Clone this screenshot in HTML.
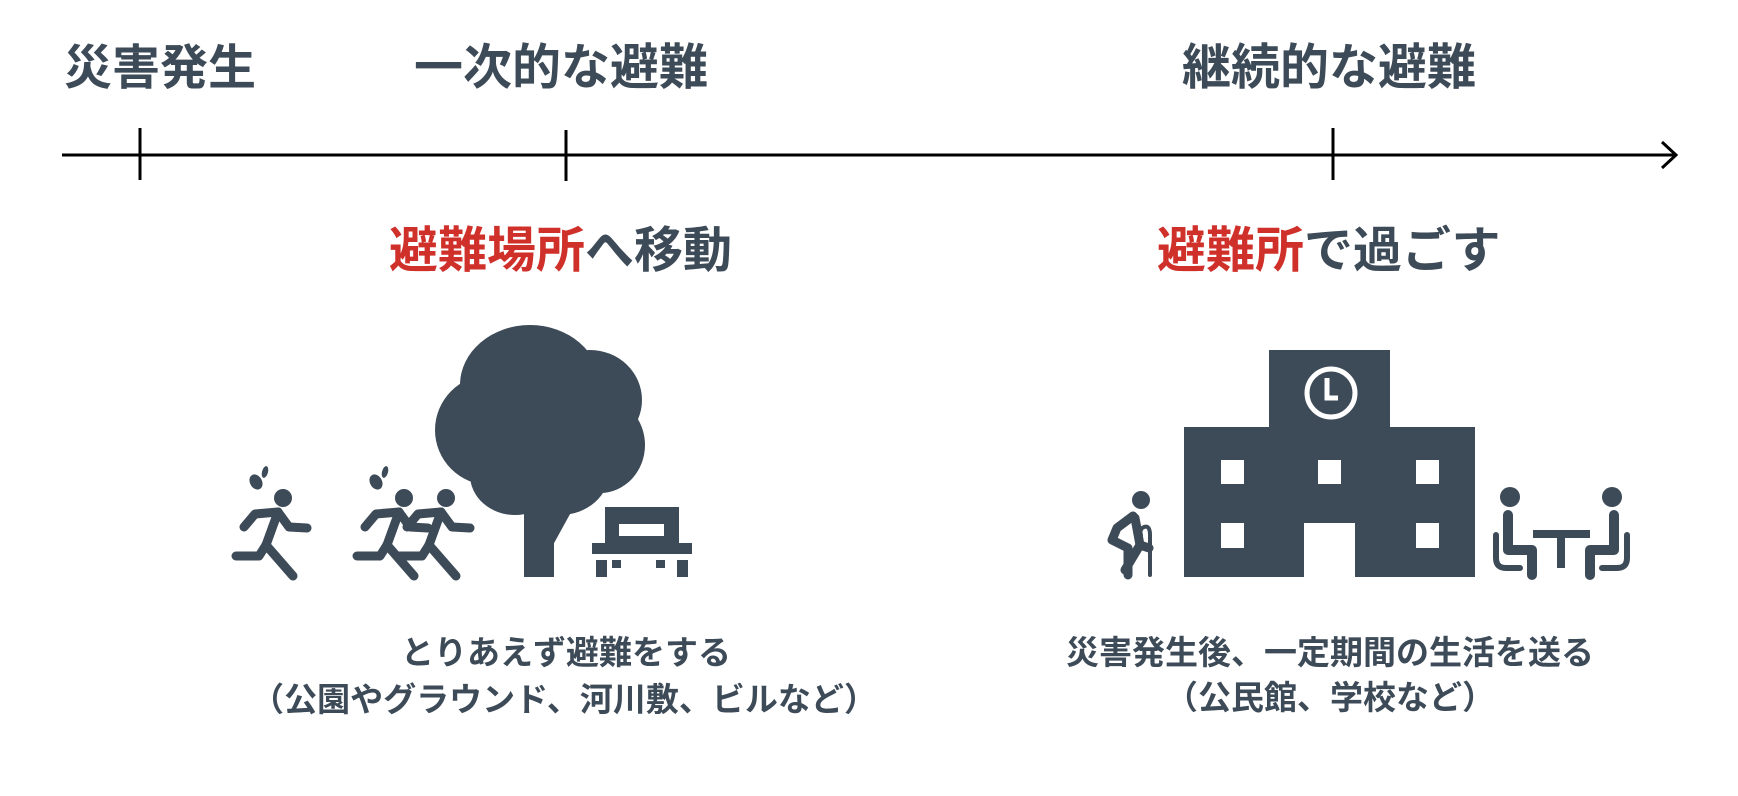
<!DOCTYPE html>
<html><head><meta charset="utf-8"><style>
html,body{margin:0;padding:0;background:#fff;}
body{width:1738px;height:796px;overflow:hidden;}
svg{display:block}
text{font-family:"Liberation Sans","Noto Sans CJK JP",sans-serif;font-weight:bold;fill:#3d4a57}
</style></head><body>
<svg width="1738" height="796" viewBox="0 0 1738 796" xmlns="http://www.w3.org/2000/svg">
<text x="64" y="84" font-size="48">災害発生</text>
<text x="414" y="84" font-size="49">一次的な避難</text>
<text x="1182" y="84" font-size="49">継続的な避難</text>
<line x1="62" y1="155" x2="1675" y2="155" stroke="#000" stroke-width="3"/>
<polyline points="1662,142 1676,155 1662,168" fill="none" stroke="#000" stroke-width="3"/>
<line x1="140" y1="128" x2="140" y2="180" stroke="#000" stroke-width="3"/>
<line x1="566" y1="130" x2="566" y2="181" stroke="#000" stroke-width="3"/>
<line x1="1333" y1="128" x2="1333" y2="180" stroke="#000" stroke-width="3"/>
<text x="389" y="267" font-size="49"><tspan fill="#d0302a">避難場所</tspan>へ移動</text>
<text x="1157" y="267" font-size="49"><tspan fill="#d0302a">避難所</tspan>で過ごす</text>
<g fill="#3d4a57">
<ellipse cx="530" cy="385" rx="70" ry="60"/>
<ellipse cx="590" cy="400" rx="52" ry="50"/>
<ellipse cx="490" cy="430" rx="55" ry="55"/>
<ellipse cx="600" cy="445" rx="45" ry="48"/>
<ellipse cx="560" cy="470" rx="50" ry="45"/>
<ellipse cx="515" cy="475" rx="45" ry="40"/>
<rect x="524" y="480" width="30" height="97"/>
<polygon points="548,520 562,505 575,505 553,545"/>
<rect x="605" y="507" width="74" height="36"/>
<rect x="592" y="543" width="100" height="11"/>
<rect x="596" y="560" width="11" height="17"/>
<rect x="677" y="560" width="11" height="17"/>
<rect x="612" y="560" width="9" height="8"/>
<rect x="656" y="560" width="9" height="8"/>
</g>
<rect x="619" y="524" width="45" height="12" fill="#fff"/>
<defs>
<g id="run">
<circle cx="283" cy="498" r="9" fill="#3d4a57"/>
<g fill="none" stroke="#3d4a57" stroke-width="9" stroke-linecap="round" stroke-linejoin="round">
<path d="M278 512 L266 545"/>
<path d="M266 545 L259 556 L236 556"/>
<path d="M266 545 L293 576"/>
<path d="M278 512 L255 514 L244 527"/>
<path d="M278 512 L289 527 L307 528"/>
</g>
</g>
<g id="drop" fill="#3d4a57">
<ellipse cx="256" cy="482" rx="6" ry="8" transform="rotate(-30 256 482)"/>
<ellipse cx="265" cy="472" rx="3" ry="6" transform="rotate(15 265 472)"/>
</g>
</defs>
<use href="#run"/>
<use href="#drop"/>
<use href="#run" transform="translate(121,0)"/>
<use href="#drop" transform="translate(120,0)"/>
<use href="#run" transform="translate(163,0)"/>
<text x="566" y="664" font-size="33" text-anchor="middle">とりあえず避難をする</text>
<text x="564" y="711" font-size="33" text-anchor="middle">（公園やグラウンド、河川敷、ビルなど）</text>
<g fill="#3d4a57">
<rect x="1269" y="350" width="121" height="80"/>
<rect x="1184" y="427" width="291" height="150"/>
</g>
<circle cx="1331" cy="393" r="24" fill="none" stroke="#fff" stroke-width="5"/>
<polyline points="1327,378 1327,398 1338,398" fill="none" stroke="#fff" stroke-width="5"/>
<g fill="#fff">
<rect x="1221" y="460" width="23" height="24"/>
<rect x="1318" y="460" width="23" height="24"/>
<rect x="1416" y="460" width="23" height="24"/>
<rect x="1221" y="523" width="23" height="25"/>
<rect x="1416" y="523" width="23" height="25"/>
<rect x="1304" y="523" width="51" height="54"/>
</g>
<circle cx="1141" cy="500" r="9" fill="#3d4a57"/>
<g fill="none" stroke="#3d4a57" stroke-width="9" stroke-linecap="round" stroke-linejoin="round">
<path d="M1133 516 L1117 528 L1112 540 L1128 548 L1128 575 M1135 518 L1140 545 L1125 570"/>
<path d="M1140 545 L1149 548"/>
</g>
<path d="M1150 575 L1150 535 Q1150 525 1144 527 Q1139 529 1141 535" fill="none" stroke="#3d4a57" stroke-width="4" stroke-linecap="round"/>
<g fill="#3d4a57">
<circle cx="1510" cy="497" r="10"/>
<circle cx="1612" cy="497" r="10"/>
<rect x="1533" y="530" width="57" height="8"/>
<rect x="1557" y="538" width="8" height="30"/>
</g>
<g fill="none" stroke="#3d4a57" stroke-width="10" stroke-linecap="round" stroke-linejoin="round">
<path d="M1508 515 L1508 550 L1532 550 L1532 575"/>
<path d="M1614 515 L1614 550 L1590 550 L1590 575"/>
<path d="M1496 535 L1496 558 Q1496 568 1506 568 L1520 568" stroke-width="6"/>
<path d="M1627 535 L1627 558 Q1627 568 1617 568 L1602 568" stroke-width="6"/>
</g>
<text x="1330" y="664" font-size="33" text-anchor="middle">災害発生後、一定期間の生活を送る</text>
<text x="1330" y="709" font-size="33" text-anchor="middle">（公民館、学校など）</text>
</svg>
</body></html>
